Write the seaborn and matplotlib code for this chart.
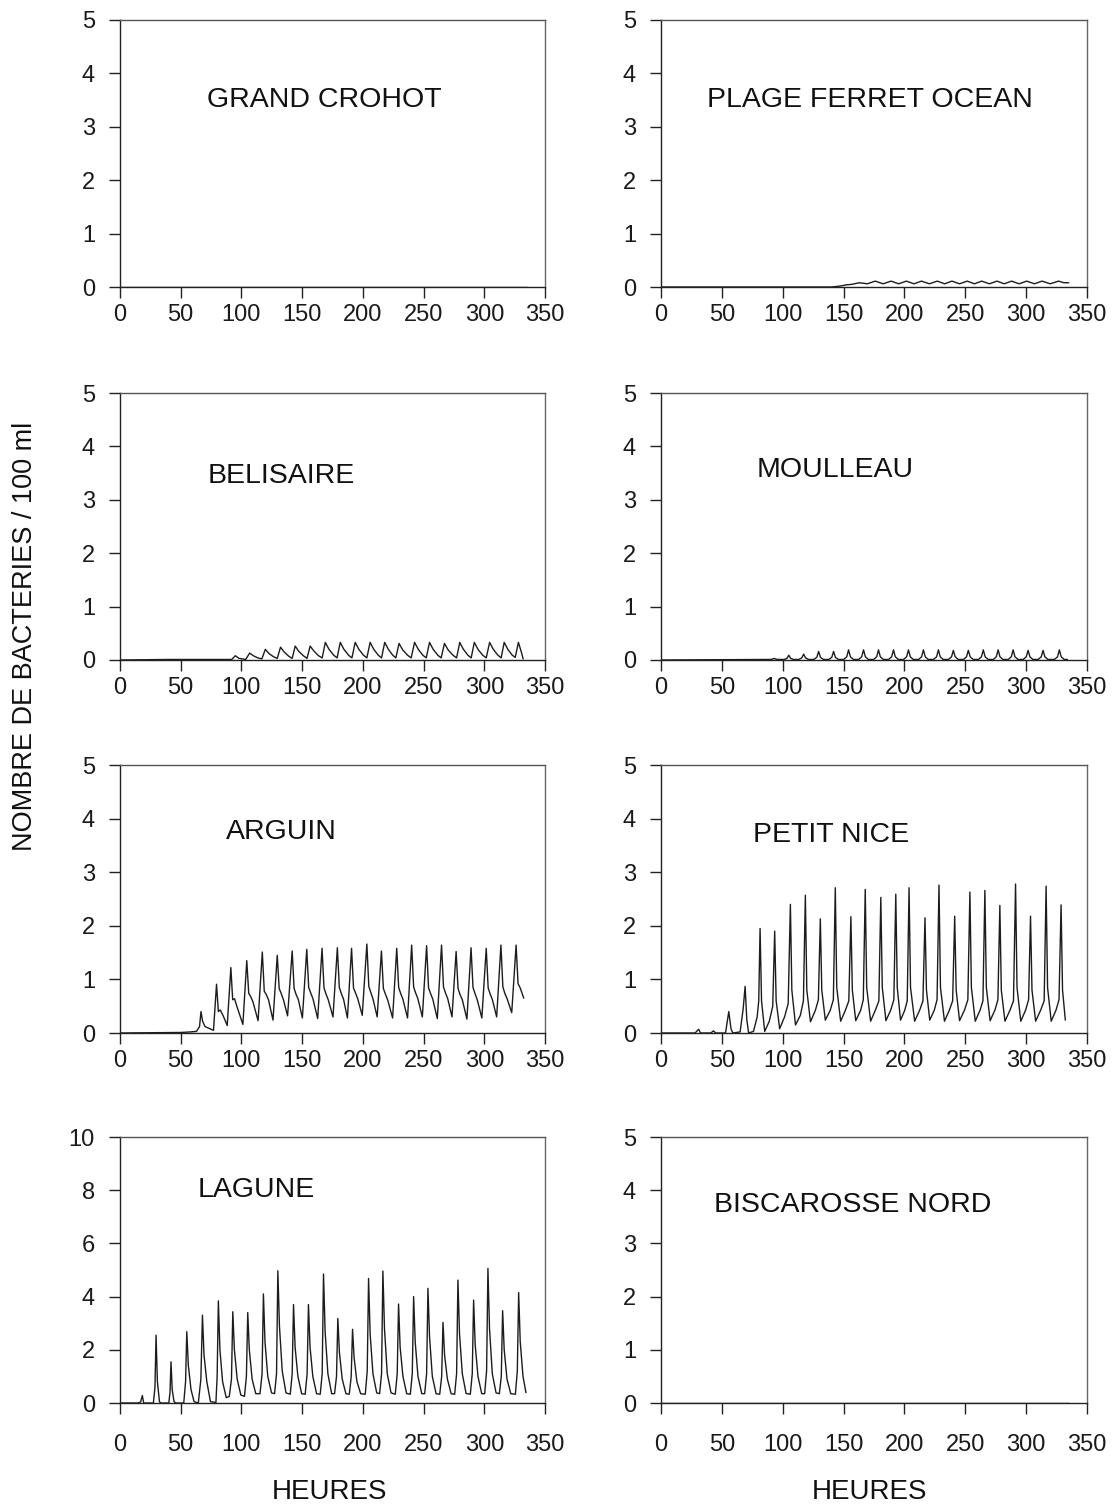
import matplotlib
matplotlib.use("Agg")
import matplotlib.pyplot as plt
import seaborn as sns
import pandas as pd

# ---------------- data (hours, bacteria / 100 ml) ----------------
sites = ["GRAND CROHOT", "PLAGE FERRET OCEAN", "BELISAIRE", "MOULLEAU",
         "ARGUIN", "PETIT NICE", "LAGUNE", "BISCAROSSE NORD"]

grand_crohot_h = [0, 335]
grand_crohot_v = [0, 0]

biscarosse_h = [0, 335]
biscarosse_v = [0, 0]

ferret_h = [0, 140, 148, 152, 157, 163, 169.5, 176, 182.5, 189, 195.3, 201.6, 207.8, 214,
            220.5, 227, 233, 239, 245.3, 251.6, 257.5, 263.5, 269.8, 276, 282, 288, 294.3,
            300.5, 306.8, 313, 319.8, 326.6, 331, 335]
ferret_v = [0, 0, 0.02, 0.04, 0.05, 0.08, 0.06, 0.11, 0.06, 0.11, 0.06, 0.11, 0.06, 0.11,
            0.06, 0.11, 0.06, 0.11, 0.06, 0.11, 0.06, 0.11, 0.06, 0.11, 0.06, 0.11, 0.06,
            0.11, 0.06, 0.11, 0.06, 0.11, 0.08, 0.08]

belisaire_h = [0, 40, 80, 92, 95, 98, 103.5,
               106.8, 109.8, 113.5, 116.8,
               119.7, 122.7, 126.5, 129.5,
               132.2, 135.2, 139, 141.8,
               144.3, 147.3, 151, 154,
               156.6, 159.6, 163.5, 166.5,
               169.1, 172.1, 176, 178.8,
               181.4, 184.4, 188.2, 191,
               193.7, 196.7, 200.5, 203.3,
               206.0, 209, 212.7, 215.4,
               218.0, 221, 224.6, 227.2,
               229.8, 232.8, 236.8, 239.8,
               242.6, 245.6, 249.4, 252.2,
               254.9, 257.9, 261.7, 264.5,
               267.2, 270.2, 274.2, 277.2,
               279.8, 282.8, 286.5, 289.2,
               291.8, 294.8, 298.7, 301.6,
               304.4, 307.4, 311.2, 313.9,
               316.4, 319.4, 323, 325.5,
               328.1, 330.5, 332]
belisaire_v = [0, 0.01, 0.01, 0.01, 0.08, 0.03, 0.01,
               0.13, 0.08, 0.04, 0.02,
               0.20, 0.12, 0.06, 0.03,
               0.24, 0.15, 0.07, 0.03,
               0.26, 0.16, 0.08, 0.03,
               0.26, 0.17, 0.08, 0.04,
               0.33, 0.20, 0.09, 0.04,
               0.33, 0.20, 0.09, 0.04,
               0.33, 0.20, 0.09, 0.04,
               0.33, 0.20, 0.09, 0.04,
               0.33, 0.20, 0.09, 0.04,
               0.31, 0.19, 0.09, 0.04,
               0.33, 0.20, 0.09, 0.04,
               0.33, 0.20, 0.09, 0.04,
               0.31, 0.19, 0.09, 0.04,
               0.33, 0.20, 0.09, 0.04,
               0.33, 0.20, 0.09, 0.04,
               0.33, 0.20, 0.09, 0.04,
               0.33, 0.20, 0.09, 0.05,
               0.33, 0.15, 0.02]

moulleau_h = [0, 85, 89, 91.5, 93, 94.5, 97,
              101, 103.5, 105, 106.5, 109,
              113.2, 115.7, 117.2, 118.7, 121.2,
              125.5, 128, 129.5, 131, 133.5,
              137.8, 140.3, 141.8, 143.3, 145.8,
              150.1, 152.6, 154.1, 155.6, 158.1,
              162.4, 164.9, 166.4, 167.9, 170.4,
              174.7, 177.2, 178.7, 180.2, 182.7,
              187, 189.5, 191, 192.5, 195,
              199.3, 201.8, 203.3, 204.8, 207.3,
              211.6, 214.1, 215.6, 217.1, 219.6,
              223.9, 226.4, 227.9, 229.4, 231.9,
              236.2, 238.7, 240.2, 241.7, 244.2,
              248.5, 251, 252.5, 254, 256.5,
              260.8, 263.3, 264.8, 266.3, 268.8,
              273, 275.5, 277, 278.5, 281,
              285.3, 287.8, 289.3, 290.8, 293.3,
              297.6, 300.1, 301.6, 303.1, 305.6,
              309.9, 312.4, 313.9, 315.4, 317.9,
              323.3, 325.8, 327.3, 328.8, 331.3, 334]
moulleau_v = [0, 0.01, 0.01, 0.015, 0.03, 0.015, 0.01,
              0.01, 0.03, 0.09, 0.03, 0.01,
              0.01, 0.04, 0.11, 0.04, 0.01,
              0.01, 0.05, 0.16, 0.05, 0.01,
              0.01, 0.05, 0.16, 0.05, 0.01,
              0.01, 0.06, 0.19, 0.06, 0.01,
              0.01, 0.06, 0.19, 0.06, 0.01,
              0.01, 0.06, 0.19, 0.06, 0.01,
              0.01, 0.06, 0.19, 0.06, 0.01,
              0.01, 0.06, 0.19, 0.06, 0.01,
              0.01, 0.06, 0.19, 0.06, 0.01,
              0.01, 0.06, 0.19, 0.06, 0.01,
              0.01, 0.06, 0.18, 0.06, 0.01,
              0.01, 0.06, 0.18, 0.06, 0.01,
              0.01, 0.06, 0.19, 0.06, 0.01,
              0.01, 0.06, 0.19, 0.06, 0.01,
              0.01, 0.06, 0.19, 0.06, 0.01,
              0.01, 0.06, 0.18, 0.06, 0.01,
              0.01, 0.06, 0.18, 0.06, 0.01,
              0.01, 0.06, 0.19, 0.06, 0.01, 0.01]

arguin_h = [0, 50, 58, 63, 65.5,
            66.7, 68, 70, 74, 77,
            79.5, 81, 82.5, 85, 88.3,
            91.3, 92.8, 94.3, 96.5, 101.2,
            104.4, 106, 107.6, 109.5, 113.7,
            117.2, 118.8, 120.4, 122.3, 126.0,
            129.5, 131.1, 132.7, 134.6, 138.0,
            141.8, 143.4, 145, 146.9, 150.2,
            153.8, 155.4, 157, 158.9, 162.8,
            166.4, 168, 169.6, 171.5, 175.4,
            179.0, 180.6, 182.2, 184.1, 187.3,
            190.7, 192.3, 193.9, 195.8, 199.5,
            203.3, 204.9, 206.5, 208.4, 211.8,
            215.3, 216.9, 218.5, 220.4, 224.5,
            227.9, 229.5, 231.1, 233, 236.8,
            240.2, 241.8, 243.4, 245.3, 249,
            252.5, 254.1, 255.7, 257.6, 261.3,
            264.8, 266.4, 268, 269.9, 273.4,
            276.8, 278.4, 280, 281.9, 285.7,
            289.1, 290.7, 292.3, 294.2, 298,
            301.6, 303.2, 304.8, 306.7, 310.2,
            313.7, 315.3, 316.9, 318.8, 322.6,
            326.2, 327.8, 329.4, 331, 332.5]
arguin_v = [0, 0.01, 0.02, 0.03, 0.12,
            0.40, 0.22, 0.12, 0.08, 0.05,
            0.91, 0.40, 0.43, 0.32, 0.14,
            1.22, 0.62, 0.64, 0.48, 0.16,
            1.35, 0.74, 0.68, 0.58, 0.23,
            1.51, 0.78, 0.72, 0.62, 0.24,
            1.45, 0.83, 0.74, 0.62, 0.32,
            1.53, 0.83, 0.72, 0.62, 0.28,
            1.56, 0.85, 0.75, 0.64, 0.27,
            1.58, 0.84, 0.73, 0.62, 0.30,
            1.59, 0.85, 0.74, 0.63, 0.28,
            1.58, 0.84, 0.75, 0.64, 0.33,
            1.66, 0.87, 0.76, 0.63, 0.30,
            1.53, 0.83, 0.73, 0.62, 0.28,
            1.58, 0.85, 0.74, 0.63, 0.28,
            1.64, 0.86, 0.75, 0.64, 0.30,
            1.63, 0.84, 0.74, 0.63, 0.27,
            1.64, 0.86, 0.75, 0.64, 0.30,
            1.52, 0.83, 0.72, 0.62, 0.26,
            1.59, 0.85, 0.74, 0.62, 0.28,
            1.58, 0.84, 0.73, 0.62, 0.30,
            1.64, 0.86, 0.74, 0.64, 0.38,
            1.64, 0.92, 0.85, 0.75, 0.65]

petit_nice_h = [0, 28, 30.9, 32.5, 41, 43, 45, 53, 55.7, 57.5, 59, 65, 67.5, 69.1, 70.5, 72,
                76, 79, 80.3,
                81.4, 82.6, 85.2, 89, 91.8,
                93.4, 94.6, 97.5, 101.5, 104.5,
                106.3, 107.5, 110.5, 114.5, 117,
                118.6, 119.8, 122.8, 126.8, 129.3,
                130.9, 132.1, 135, 139, 141.6,
                143.2, 144.4, 147.6, 151.6, 154.3,
                156.0, 157.2, 160, 164, 166.2,
                167.8, 169, 172.2, 176.2, 179,
                180.6, 181.8, 184.8, 188.8, 191.3,
                192.9, 194.1, 196.8, 200.2, 202.3,
                203.8, 205, 208.4, 212.6, 215.2,
                216.9, 218.1, 220.8, 224.6, 226.8,
                228.4, 229.6, 232.9, 237, 239.6,
                241.3, 242.5, 245.3, 249.4, 252.1,
                253.8, 255, 258.2, 262.2, 264.5,
                266.1, 267.3, 270.4, 274.4, 276.8,
                278.4, 279.6, 282.6, 286.8, 289.6,
                291.3, 292.5, 295.6, 299.6, 302,
                303.6, 304.8, 307.8, 312, 314.8,
                316.4, 317.6, 320.6, 324.6, 327,
                328.7, 329.9, 332.2]
petit_nice_v = [0, 0, 0.07, 0, 0, 0.04, 0, 0, 0.40, 0.08, 0, 0.02, 0.45, 0.87, 0.25, 0,
                0.03, 0.30, 0.60,
                1.95, 0.60, 0.03, 0.22, 0.50,
                1.90, 0.60, 0.08, 0.30, 0.55,
                2.40, 0.80, 0.15, 0.33, 0.60,
                2.57, 0.80, 0.21, 0.42, 0.62,
                2.13, 0.80, 0.24, 0.42, 0.62,
                2.71, 0.85, 0.22, 0.43, 0.60,
                2.17, 0.80, 0.23, 0.42, 0.62,
                2.68, 0.85, 0.22, 0.43, 0.60,
                2.53, 0.85, 0.23, 0.43, 0.62,
                2.59, 0.85, 0.24, 0.42, 0.60,
                2.71, 0.85, 0.22, 0.43, 0.60,
                2.15, 0.80, 0.24, 0.43, 0.62,
                2.76, 0.85, 0.22, 0.43, 0.60,
                2.18, 0.80, 0.23, 0.43, 0.62,
                2.63, 0.85, 0.22, 0.43, 0.60,
                2.66, 0.85, 0.23, 0.43, 0.62,
                2.38, 0.80, 0.22, 0.43, 0.60,
                2.78, 0.85, 0.22, 0.43, 0.62,
                2.18, 0.80, 0.22, 0.43, 0.60,
                2.74, 0.85, 0.22, 0.43, 0.62,
                2.39, 0.80, 0.24]

lagune_h = [0, 15, 17, 18.4, 19.5, 27.5, 28.8, 29.7, 30.8, 32.5, 33.5, 40.2, 41.2, 42.0, 43,
            44.5, 46, 52.5, 54, 55.0, 56.3, 58.5, 61, 64.5, 66.6, 67.9, 69.2, 71.5, 74.5,
            79, 80, 81.0, 82.3, 84.5, 87.5, 90, 91.8,
            92.9, 94.2, 96.5, 99.5, 102.5, 104.1,
            105.2, 106.5, 108.8, 111.8, 115.3, 117,
            118.1, 119.4, 121.7, 124.8, 127.3, 128.9,
            130.0, 131.3, 133.6, 136.7, 140.2, 141.8,
            142.9, 144.2, 146.5, 149.6, 152.5, 154.1,
            155.2, 156.5, 158.8, 161.9, 164.9, 166.5,
            167.6, 168.9, 171.2, 174.3, 176.7, 178.3,
            179.4, 180.7, 183, 186.1, 188.8, 190.4,
            191.5, 192.8, 195.1, 198.2, 202, 203.6,
            204.7, 206, 208.3, 211.4, 213.8, 215.4,
            216.5, 217.8, 220.1, 223.2, 226.7, 228.3,
            229.4, 230.7, 233, 236.1, 239.1, 240.7,
            241.8, 243.1, 245.4, 248.5, 250.9, 252.5,
            253.6, 254.9, 257.2, 260.3, 263.3, 264.9,
            266.0, 267.3, 269.6, 272.7, 275.6, 277.2,
            278.3, 279.6, 281.9, 285, 288.5, 290.1,
            291.2, 292.5, 294.8, 297.9, 300.3, 301.9,
            303.0, 304.3, 306.6, 309.7, 312.4, 314,
            315.1, 316.4, 318.7, 321.8, 325.6, 327.2,
            328.3, 329.6, 331.9, 334.3]
lagune_v = [0, 0, 0.04, 0.28, 0, 0, 0.6, 2.55, 0.8, 0.05, 0, 0, 0.4, 1.55, 0.5,
            0.05, 0, 0, 0.8, 2.68, 1.4, 0.5, 0.05, 0, 0.9, 3.30, 1.8, 0.8, 0.05,
            0.02, 1.0, 3.84, 2.0, 0.8, 0.2, 0.25, 0.9,
            3.43, 2.0, 0.9, 0.3, 0.25, 1.0,
            3.40, 2.0, 0.9, 0.35, 0.35, 1.1,
            4.10, 2.3, 1.0, 0.38, 0.35, 1.1,
            4.97, 2.9, 1.2, 0.38, 0.33, 1.1,
            3.70, 2.1, 1.0, 0.35, 0.33, 1.1,
            3.70, 2.1, 1.0, 0.35, 0.33, 1.1,
            4.85, 2.7, 1.1, 0.35, 0.35, 1.0,
            3.18, 1.9, 0.9, 0.35, 0.33, 1.0,
            2.77, 1.7, 0.8, 0.35, 0.33, 1.2,
            4.68, 2.6, 1.1, 0.38, 0.35, 1.1,
            4.96, 2.8, 1.1, 0.38, 0.33, 1.1,
            3.72, 2.1, 1.0, 0.35, 0.33, 1.1,
            4.00, 2.3, 1.0, 0.35, 0.35, 1.1,
            4.31, 2.5, 1.0, 0.35, 0.33, 1.0,
            3.03, 1.8, 0.9, 0.35, 0.33, 1.1,
            4.62, 2.6, 1.1, 0.36, 0.33, 1.1,
            3.87, 2.2, 1.0, 0.35, 0.35, 1.2,
            5.06, 2.8, 1.1, 0.38, 0.35, 1.0,
            3.47, 2.0, 0.9, 0.35, 0.33, 1.2,
            4.15, 2.3, 1.0, 0.39]

series = {
    "GRAND CROHOT": (grand_crohot_h, grand_crohot_v),
    "PLAGE FERRET OCEAN": (ferret_h, ferret_v),
    "BELISAIRE": (belisaire_h, belisaire_v),
    "MOULLEAU": (moulleau_h, moulleau_v),
    "ARGUIN": (arguin_h, arguin_v),
    "PETIT NICE": (petit_nice_h, petit_nice_v),
    "LAGUNE": (lagune_h, lagune_v),
    "BISCAROSSE NORD": (biscarosse_h, biscarosse_v),
}
y_max = {"LAGUNE": 10}
label_pos = {
    "GRAND CROHOT": (0.48, 0.70), "PLAGE FERRET OCEAN": (0.49, 0.70),
    "BELISAIRE": (0.38, 0.69), "MOULLEAU": (0.41, 0.71),
    "ARGUIN": (0.38, 0.75), "PETIT NICE": (0.40, 0.74),
    "LAGUNE": (0.32, 0.80), "BISCAROSSE NORD": (0.45, 0.745),
}
x_ticks = [0, 50, 100, 150, 200, 250, 300, 350]
x_label = "HEURES"
y_label = "NOMBRE DE BACTERIES / 100 ml"

# ---------------- figure ----------------
sns.set_theme(style="ticks")
plt.rcParams["font.family"] = ["Liberation Sans", "DejaVu Sans"]

W, H = 1114, 1508
fig = plt.figure(figsize=(W / 100, H / 100), dpi=100)
fig.patch.set_facecolor("white")

cols = [(120, 545), (661, 1087)]
rows = [(20, 287), (393, 660), (765, 1033), (1137, 1403)]

ink = "#1c1c1c"
for i, name in enumerate(sites):
    r, c = divmod(i, 2)
    x0, x1 = cols[c]
    top, bot = rows[r]
    ax = fig.add_axes([x0 / W, 1 - bot / H, (x1 - x0) / W, (bot - top) / H])
    hours, vals = series[name]
    df = pd.DataFrame({"h": hours, "v": vals})
    sns.lineplot(data=df, x="h", y="v", ax=ax, color=ink, linewidth=1.0,
                 estimator=None, sort=False)
    ymax = y_max.get(name, 5)
    ax.set_xlim(0, 350)
    ax.set_ylim(0, ymax)
    ax.set_xticks(x_ticks)
    ax.set_yticks(range(0, ymax + 1, 2 if ymax == 10 else 1))
    ax.set_xlabel("")
    ax.set_ylabel("")
    for s in ax.spines.values():
        s.set_visible(True)
        s.set_linewidth(1.0)
        s.set_color("#222222")
    ax.spines["top"].set_color("#555555")
    ax.spines["right"].set_color("#666666")
    ax.tick_params(axis="both", direction="out", length=8, width=1.0,
                   color="#222222", labelsize=17, labelcolor="#1a1a1a")
    ax.tick_params(axis="y", pad=10)
    ax.tick_params(axis="x", pad=14 if r == 3 else 4)
    ax.set_facecolor("white")
    lx, ly = label_pos[name]
    ax.text(lx, ly, name, transform=ax.transAxes, ha="center", va="center",
            fontsize=20.5, color="#111111")

fig.text(330 / W, 1 - 1492 / H, x_label, ha="center", va="center", fontsize=20, color="#111111")
fig.text(870 / W, 1 - 1492 / H, x_label, ha="center", va="center", fontsize=20, color="#111111")
fig.text(25 / W, 1 - 636 / H, y_label, ha="center", va="center", rotation=90,
         fontsize=19.5, color="#111111")

fig.savefig("out.png", dpi=100, facecolor="white")
